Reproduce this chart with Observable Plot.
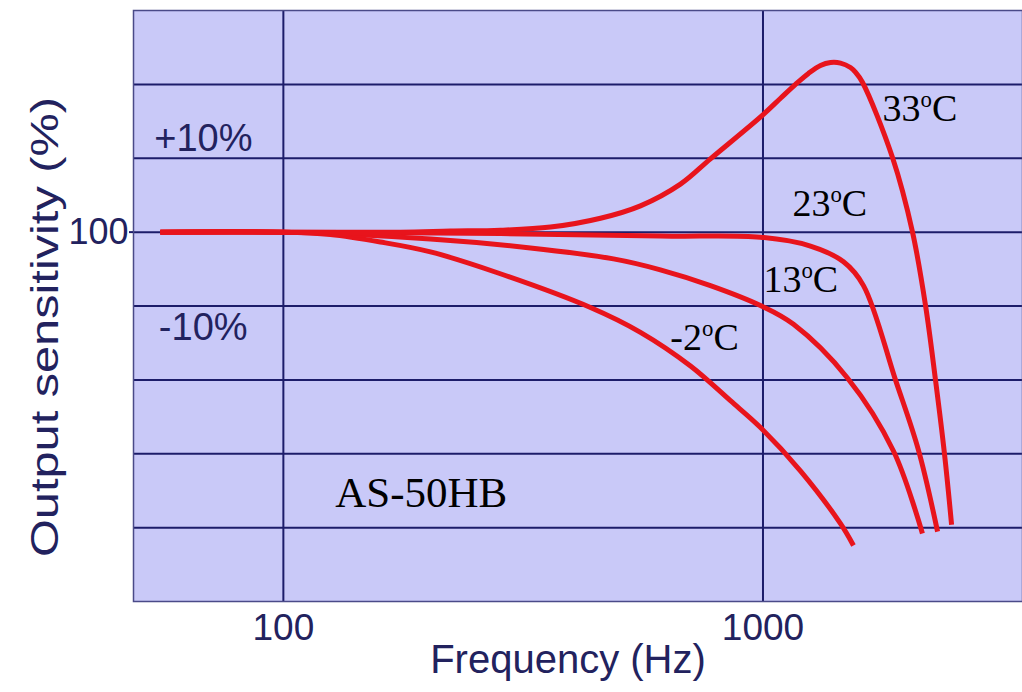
<!DOCTYPE html>
<html>
<head>
<meta charset="utf-8">
<script src="https://cdn.jsdelivr.net/npm/d3@7"></script>
<script src="https://cdn.jsdelivr.net/npm/@observablehq/plot@0.6"></script>
<style>
  body { margin: 0; background: #ffffff; }
  #chart svg { display: block; }
</style>
</head>
<body>
<div id="chart"></div>
<script>
// ---- Data ----
const seriesNames = ["-2°C", "13°C", "23°C", "33°C"];

const freqM2  = [55.4, 100, 125.3, 159.3, 202.6, 279.4, 436.8, 555.3, 706.2, 855.3, 988, 1198, 1451, 1544];
const sensM2  = [100, 100, 99.83, 99.33, 98.66, 97.25, 94.9, 93.22, 90.94, 88.59, 86.78, 83.83, 80.27, 78.79];

const freq13  = [55.4, 100, 202.6, 327.4, 487.8, 611, 777, 988, 1158, 1500, 1872, 2150];
const sens13  = [100, 100, 99.53, 98.93, 98.19, 97.45, 96.38, 95.03, 93.76, 90.13, 85.17, 79.6];

const freq23  = [55.4, 100, 284, 611, 988, 1256, 1472, 1620, 1889, 2110, 2312];
const sens23  = [100, 100, 99.9, 99.73, 99.66, 99.06, 97.99, 96.38, 90.0, 85.23, 79.73];

const freq33  = [55.4, 100, 175.4, 223, 283.6, 360.5, 458.3, 555.3, 672.9, 777, 998, 1088, 1169, 1244, 1318, 1383, 1451, 1522, 1560, 1613, 1863, 2050, 2183, 2289, 2390, 2473];
const sens33  = [100, 100, 100, 100.07, 100.13, 100.34, 100.94, 101.78, 103.25, 104.96, 107.92, 109.06, 110.0, 110.74, 111.28, 111.48, 111.44, 111.14, 110.81, 110.13, 105.03, 100.0, 95.0, 90.0, 85.0, 80.2];

const xTicks = [100, 1000];
const yTicks = [100];
const hGrid  = [80, 85, 90, 95, 100, 105, 110];
const vGrid  = [100, 1000];

const bandLabels = ["+10%", "-10%"];
const bandLabelFreq = [53.8, 55.0];
const bandLabelSens = [105.47, 92.73];

const tempLabels = ["33°C", "23°C", "13°C", "-2°C"];
const tempLabelFreq = [1775, 1152, 1002, 641];
const tempLabelSens = [107.52, 101.07, 95.97, 92.01];

const modelLabel = ["AS-50HB"];
const modelLabelFreq = [128.3];
const modelLabelSens = [81.41];

// ---- Build tables ----
const freqs = [freqM2, freq13, freq23, freq33];
const sens  = [sensM2, sens13, sens23, sens33];
const rows = seriesNames.flatMap((name, i) =>
  freqs[i].map((f, j) => ({series: name, freq: f, sens: sens[i][j]})));
const bandRows = bandLabels.map((t, i) => ({text: t, freq: bandLabelFreq[i], sens: bandLabelSens[i]}));
const tempRows = tempLabels.map((t, i) => ({text: t, freq: tempLabelFreq[i], sens: tempLabelSens[i]}));
const modelRows = modelLabel.map((t, i) => ({text: t, freq: modelLabelFreq[i], sens: modelLabelSens[i]}));

const navy = "#1c1c6a";
const ink = "#22225e";
const serif = "'Liberation Serif', 'Times New Roman', serif";

const plot = Plot.plot({
  width: 1022,
  height: 692,
  marginLeft: 133,
  marginRight: 0,
  marginTop: 10,
  marginBottom: 91,
  style: {background: "#ffffff", fontFamily: "'Liberation Sans', Arial, sans-serif", color: ink},
  x: {type: "log", domain: [48.7, 3476]},
  y: {domain: [75, 115]},
  marks: [
    Plot.frame({fill: "#c9c9f8", stroke: "none"}),
    Plot.ruleY(hGrid, {stroke: navy, strokeWidth: 2}),
    Plot.ruleX(vGrid, {stroke: navy, strokeWidth: 2}),
    Plot.frame({stroke: "#4a4a88", strokeWidth: 1.5}),
    Plot.axisX(xTicks, {tickSize: 0, tickPadding: 12, fontSize: 37, tickFormat: d => String(d), label: null, fill: ink}),
    Plot.axisY(yTicks, {tickSize: 4, tickPadding: 1, fontSize: 36, tickFormat: d => String(d), label: null, stroke: navy, strokeWidth: 2, fill: ink}),
    Plot.line(rows, {x: "freq", y: "sens", z: "series", stroke: "#e8141c", strokeWidth: 5, curve: "catmull-rom", strokeLinecap: "butt"}),
    Plot.text(bandRows, {x: "freq", y: "sens", text: "text", textAnchor: "start", lineAnchor: "bottom", fontSize: 38, fill: ink}),
    Plot.text(tempRows, {x: "freq", y: "sens", text: "text", textAnchor: "start", lineAnchor: "bottom", fontSize: 38, fontFamily: serif, fill: "#000000"}),
    Plot.text(modelRows, {x: "freq", y: "sens", text: "text", textAnchor: "start", lineAnchor: "bottom", fontSize: 43, fontFamily: serif, fill: "#000000"}),
    Plot.text(["Output sensitivity (%)"], {frameAnchor: "left", textAnchor: "middle", rotate: -90, dx: -88, dy: 21, fontSize: 38, fill: ink}),
    Plot.text(["Frequency (Hz)"], {frameAnchor: "bottom", textAnchor: "middle", lineAnchor: "bottom", dx: -10, dy: 71, fontSize: 40, fill: ink})
  ]
});

d3.select(plot).selectAll("text").each(function() {
  const t = this.textContent;
  const sel = d3.select(this);
  if (/^-?\d+°C$/.test(t)) {
    // superscript "o" as in the reference
    const num = t.replace("°C", "");
    sel.text(null);
    sel.append("tspan").text(num);
    sel.append("tspan").attr("font-size", "0.6em").attr("dy", "-0.62em").text("o");
    sel.append("tspan").attr("dy", "0.372em").text("C");
  } else if (t === "Output sensitivity (%)") {
    // the reference's vertical label is drawn stretched along its length
    sel.attr("textLength", 460).attr("lengthAdjust", "spacingAndGlyphs");
  }
});

document.getElementById("chart").appendChild(plot);
</script>
</body>
</html>
